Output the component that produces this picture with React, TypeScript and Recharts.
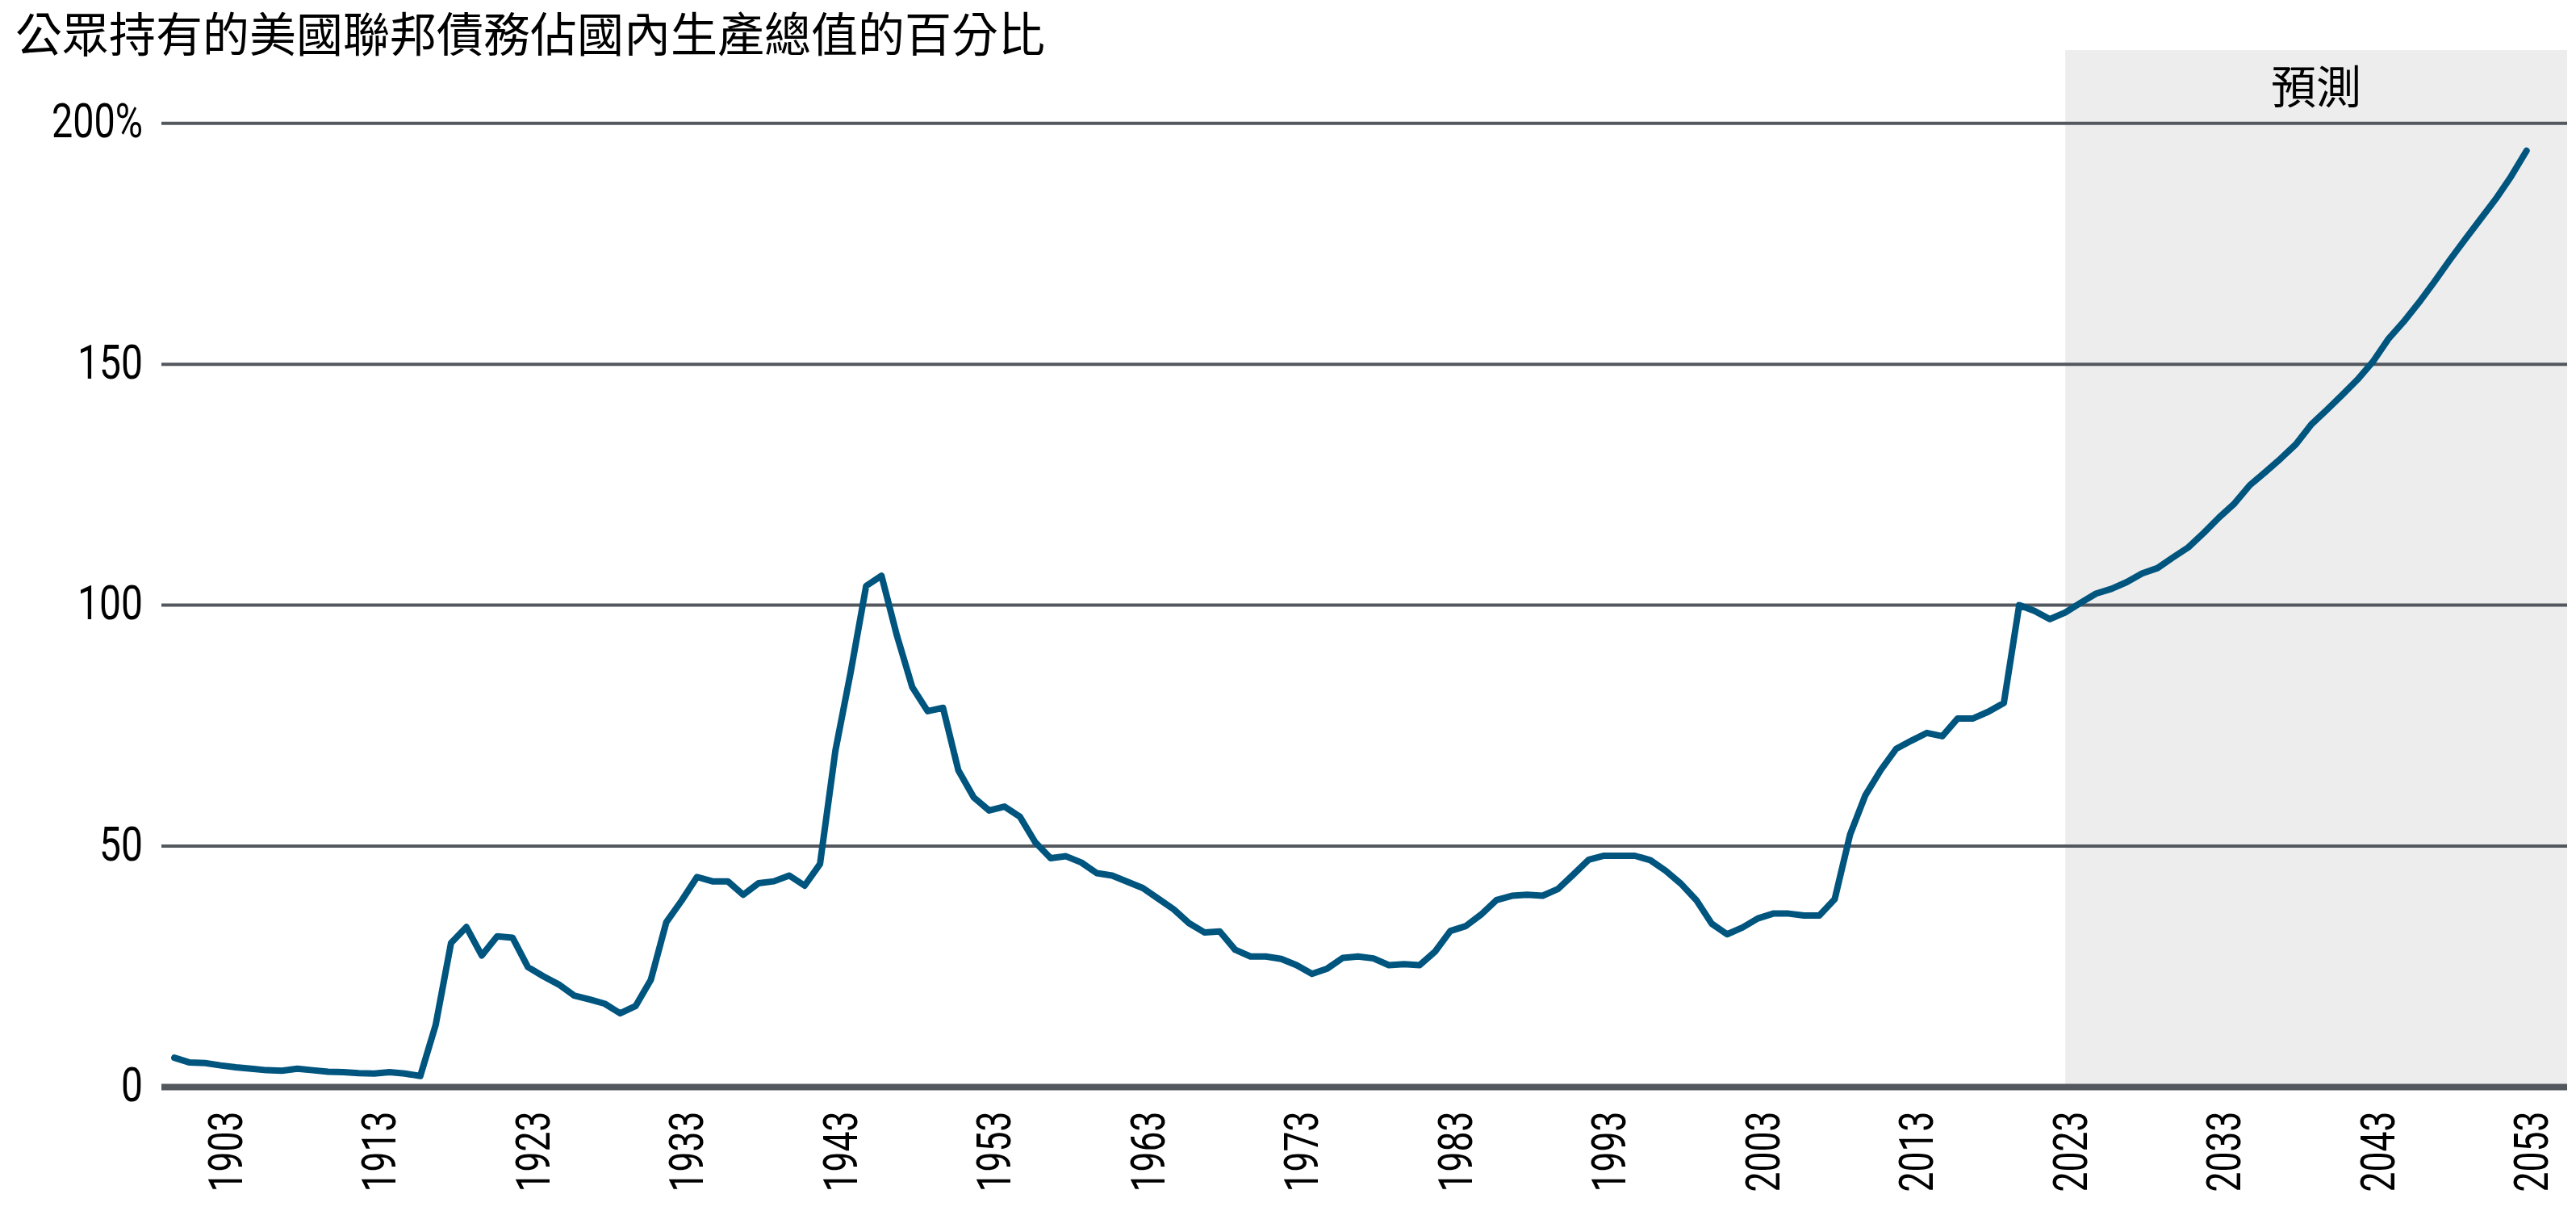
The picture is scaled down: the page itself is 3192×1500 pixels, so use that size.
import React from 'react';
import {
  LineChart,
  Line,
  XAxis,
  YAxis,
  ReferenceArea,
  ReferenceLine,
} from 'recharts';

// Debt held by the public, % of GDP, one value per year from 1900
const FIRST_YEAR = 1900;

const actualDebt = [
  6.1, 5.1, 5.0, 4.5, 4.1, 3.8, 3.5, 3.4, 3.8, 3.5,
  3.2, 3.1, 2.9, 2.8, 3.1, 2.8, 2.3, 12.9, 29.9, 33.2,
  27.3, 31.3, 31.0, 24.9, 23.0, 21.3, 19.0, 18.2, 17.3, 15.3,
  16.8, 22.3, 34.2, 38.7, 43.6, 42.7, 42.7, 39.9, 42.3, 42.7,
  43.9, 41.8, 46.3, 69.8, 86.2, 104.0, 106.1, 93.7, 83.0, 78.0,
  78.7, 65.7, 60.1, 57.4, 58.2, 56.1, 50.8, 47.5, 47.9, 46.6,
  44.4, 43.9, 42.6, 41.3, 39.1, 36.9, 34.0, 32.1, 32.3, 28.5,
  27.1, 27.1, 26.6, 25.3, 23.5, 24.6, 26.8, 27.1, 26.7, 25.3,
  25.5, 25.3, 28.1, 32.4, 33.4, 35.8, 38.8, 39.7, 39.9, 39.7,
  41.1, 44.1, 47.2, 48.0, 48.0, 48.0, 47.1, 44.9, 42.2, 38.8,
  33.9, 31.7, 33.1, 35.0, 36.0, 36.0, 35.6, 35.6, 39.0, 52.4,
  60.6, 65.8, 70.2, 71.9, 73.5, 72.8, 76.5, 76.5, 77.9, 79.7,
  100.0, 98.8, 97.1,
];

// Projection 2023-2053
const projectedDebt = [
  98.5, 100.5, 102.4, 103.4, 104.8, 106.6, 107.7,
  109.9, 112.0, 115.0, 118.2, 121.1, 124.9, 127.6, 130.4, 133.4, 137.5,
  140.5, 143.6, 146.8, 150.5, 155.2, 158.8, 162.8, 167.1, 171.6, 175.9,
  180.1, 184.3, 189.0, 194.3,
];

const FORECAST_START = 2023;

const xTicks = [1903, 1913, 1923, 1933, 1943, 1953, 1963, 1973, 1983, 1993, 2003, 2013, 2023, 2033, 2043, 2053];
const yTicks = [0, 50, 100, 150, 200];
const yTickLabels = ['0', '50', '100', '150', '200%'];
const gridValues = [50, 100, 150, 200];

const TITLE = '公眾持有的美國聯邦債務佔國內生產總值的百分比';
const FORECAST_LABEL = '預測';

const X_MIN = 1899.16;
const X_MAX = 2055.64;
const Y_MAX = 215.2;

const chartData = [...actualDebt, ...projectedDebt].map((value, i) => ({
  year: FIRST_YEAR + i,
  value,
}));

const NUM_FONT = "Roboto, 'Liberation Sans', sans-serif";
const CJK_FONT = "'Noto Sans CJK TC', 'Noto Sans CJK SC', sans-serif";
const GRID = '#53575e';

// the original uses a condensed face; squeeze the glyphs to the same widths
const squeezed = (label: string, digitW: number) =>
  label.split('').reduce((w, ch) => w + (ch === '%' ? 32 : digitW), 0);

const XTick = (props: any) => {
  const { x, y, payload } = props;
  const label = String(payload.value);
  return (
    <text
      transform={`translate(${x + 5},${y}) rotate(-90)`}
      textAnchor="end"
      dy="0.36em"
      fontSize={60}
      fontFamily={NUM_FONT}
      fill="#000"
      textLength={squeezed(label, 25)}
      lengthAdjust="spacingAndGlyphs"
    >
      {label}
    </text>
  );
};

const YTick = (props: any) => {
  const { x, y, payload } = props;
  const label = yTickLabels[yTicks.indexOf(payload.value)];
  return (
    <text
      x={x}
      y={y - 4}
      dy="0.36em"
      textAnchor="end"
      fontSize={60}
      fontFamily={NUM_FONT}
      fill="#000"
      textLength={squeezed(label, 27)}
      lengthAdjust="spacingAndGlyphs"
    >
      {label}
    </text>
  );
};

export default function App() {
  return (
    <div style={{ position: 'absolute', left: 0, top: 0, width: 3192, height: 1500, background: '#fff' }}>
      <div
        style={{
          position: 'absolute',
          left: 19,
          top: 10,
          fontFamily: CJK_FONT,
          fontSize: 58,
          lineHeight: 1,
          color: '#000',
          whiteSpace: 'nowrap',
        }}
      >
        {TITLE}
      </div>
      <LineChart width={3192} height={1500} data={chartData} margin={{ top: 62, right: 11, bottom: 0, left: 0 }}>
        <ReferenceArea
          x1={FORECAST_START}
          x2={X_MAX}
          y1={0}
          y2={Y_MAX}
          fill="#ededed"
          fillOpacity={1}
          stroke="none"
          ifOverflow="hidden"
          zIndex={-200}
          label={{
            value: FORECAST_LABEL,
            position: 'insideTop',
            offset: 26,
            fontSize: 56,
            fill: '#000',
            fontFamily: CJK_FONT,
          }}
        />
        {gridValues.map((v) => (
          <ReferenceLine key={v} y={v} stroke={GRID} strokeWidth={4} ifOverflow="hidden" />
        ))}
        <XAxis
          dataKey="year"
          type="number"
          domain={[X_MIN, X_MAX]}
          ticks={xTicks}
          interval={0}
          allowDataOverflow
          height={153.5}
          tickSize={0}
          tickMargin={30}
          tickLine={false}
          axisLine={{ stroke: GRID, strokeWidth: 8 }}
          tick={<XTick />}
        />
        <YAxis
          type="number"
          domain={[0, Y_MAX]}
          ticks={yTicks}
          interval={0}
          allowDataOverflow
          width={200}
          tickSize={0}
          tickMargin={23}
          tickLine={false}
          axisLine={false}
          tick={<YTick />}
        />
        <Line
          type="linear"
          dataKey="value"
          stroke="#00557f"
          strokeWidth={8}
          strokeLinejoin="round"
          strokeLinecap="round"
          dot={false}
          activeDot={false}
          isAnimationActive={false}
        />
      </LineChart>
    </div>
  );
}
